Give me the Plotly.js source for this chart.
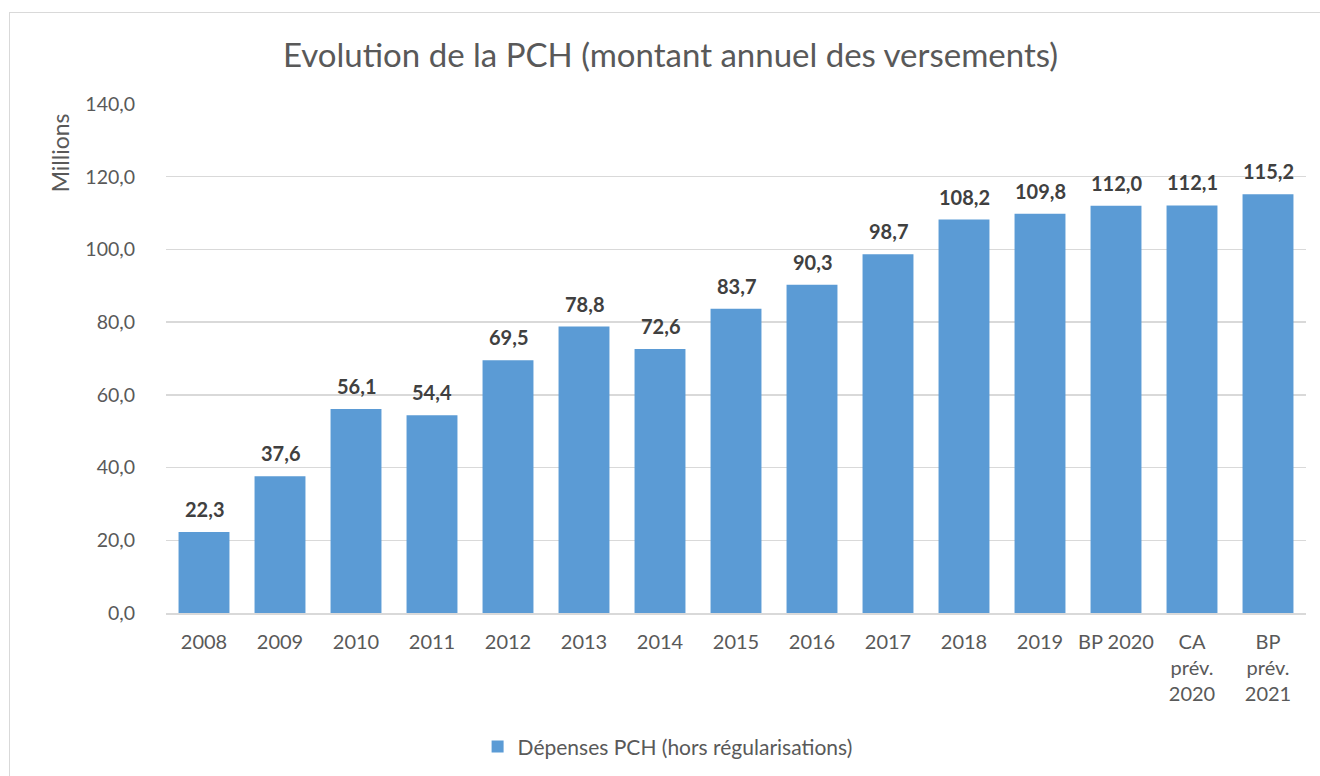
<!DOCTYPE html>
<html>
<head>
<meta charset="utf-8">
<script src="https://cdn.plot.ly/plotly-3.0.1.min.js"></script>
<style>
html,body{margin:0;padding:0;background:#fff;}
#wrap{position:relative;width:1320px;height:776px;overflow:hidden;}
#frame{position:absolute;left:9px;top:12px;width:1400px;height:900px;border:1px solid #D9D9D9;box-sizing:border-box;pointer-events:none;}
#chart{position:absolute;left:0;top:0;width:1320px;height:776px;}
</style>
</head>
<body>
<div id="wrap"><div id="chart"></div><div id="frame"></div></div>
<script>
const categories = ["2008","2009","2010","2011","2012","2013","2014","2015","2016","2017","2018","2019","BP 2020","CA<br>prév.<br>2020","BP<br>prév.<br>2021"];
const values = [22.3,37.6,56.1,54.4,69.5,78.8,72.6,83.7,90.3,98.7,108.2,109.8,112.0,112.1,115.2];
const seriesName = "Dépenses PCH (hors régularisations)";
const yTicks = [0,20,40,60,80,100,120,140];

const font = "Lato, 'Open Sans', sans-serif";
const trace = {
  type:'bar', x:categories, y:values, name:seriesName,
  marker:{color:'#5B9BD5', line:{color:'#FFFFFF', width:0}},
  hoverinfo:'none'
};
const labelAnnotations = values.map((v,i)=>({
  x:i, y:v, xref:'x', yref:'y',
  text:'<b>'+v.toFixed(1).replace('.',',')+'</b>',
  showarrow:false, yanchor:'bottom', xanchor:'center', yshift:9,
  font:{family:font, size:20, color:'#404040'}
}));
const layout = {
  width:1320, height:776,
  margin:{l:166, r:14, t:104, b:163, autoexpand:false},
  paper_bgcolor:'rgba(0,0,0,0)', plot_bgcolor:'rgba(0,0,0,0)',
  separators:', ',
  font:{family:font, color:'#595959', size:19},
  title:{text:'Evolution de la PCH (montant annuel des versements)', font:{family:font, size:33, color:'#595959'}, x:0.508, xanchor:'center', xref:'container', y:1-55/776, yanchor:'middle', yref:'container'},
  bargap:0.33,
  xaxis:{type:'category', categoryorder:'array', categoryarray:categories, range:[-0.5, categories.length-0.5], showgrid:false, showline:true, linecolor:'#D9D9D9', linewidth:1.5, ticks:'', tickfont:{size:20, color:'#595959'}, ticklabelstandoff:10, automargin:false},
  yaxis:{range:[0,140], tickvals:yTicks, tickformat:'.1f', showgrid:true, gridcolor:'#D9D9D9', gridwidth:1.3, zeroline:false, showline:false, ticks:'', tickfont:{size:19.5, color:'#595959'}, ticklabelstandoff:30, automargin:false},
  showlegend:true,
  legend:{orientation:'h', x:0.44, xanchor:'center', y:-0.263, yanchor:'middle', font:{size:21, color:'#595959'}, itemwidth:30},
  annotations:[{text:'Millions', xref:'paper', yref:'paper', x:-0.093, y:0.905, textangle:-90, showarrow:false, font:{size:23, color:'#595959'}, xanchor:'center', yanchor:'middle'}].concat(labelAnnotations)
};
Plotly.newPlot('chart',[trace],layout,{staticPlot:true});
</script>
</body>
</html>
